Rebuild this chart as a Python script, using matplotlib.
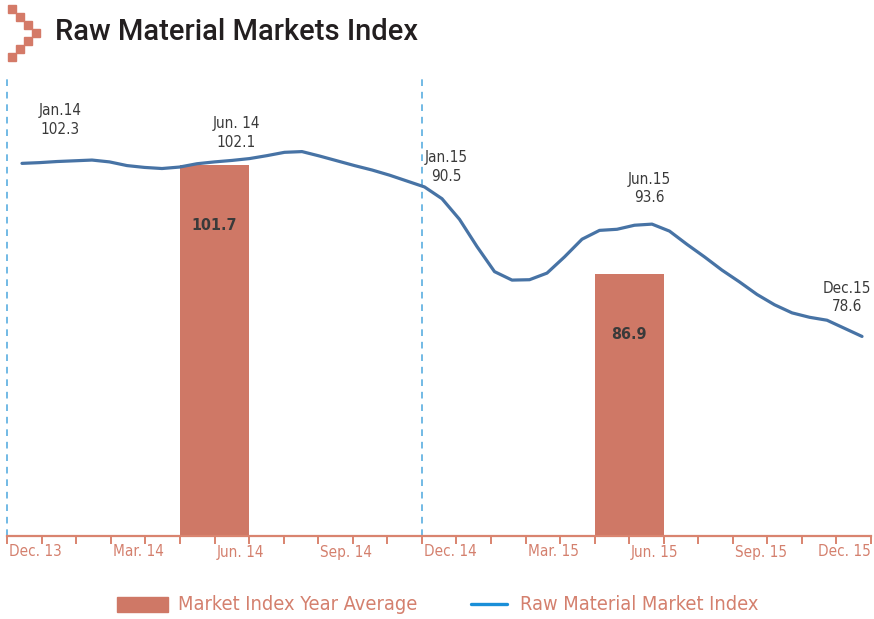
import numpy as np
import matplotlib
matplotlib.use('Agg')
import matplotlib.pyplot as plt
from matplotlib.patches import Rectangle
from matplotlib.lines import Line2D

# months run Dec 13 .. Dec 15, one band per month on the x axis
n_bands = 26
tick_labels = ['Dec. 13', 'Mar. 14', 'Jun. 14', 'Sep. 14', 'Dec. 14',
               'Mar. 15', 'Jun. 15', 'Sep. 15', 'Dec. 15']
tick_label_pos = [0, 3, 6, 9, 12, 15, 18, 21, 25]

index_vals = [101.9, 102.0, 102.15, 102.25, 102.35, 102.1, 101.6, 101.35,
              101.2, 101.4, 101.85, 102.1, 102.3, 102.55, 102.95, 103.4,
              103.5, 102.9, 102.25, 101.6, 101.0, 100.3, 99.5, 98.7,
              97.1, 94.3, 90.6, 87.2, 86.05, 86.1, 87.0, 89.2,
              91.6, 92.8, 92.95, 93.5, 93.65, 92.7, 90.9, 89.2,
              87.4, 85.8, 84.1, 82.7, 81.6, 81.0, 80.6, 79.5, 78.4]

# year averages, bars cover May/Jun
avg_vals = [101.7, 86.9]
avg_pos = [6, 18]

# callouts on the line
call_names = ['Jan.14', 'Jun. 14', 'Jan.15', 'Jun.15', 'Dec.15']
call_vals = [102.3, 102.1, 90.5, 93.6, 78.6]
call_month = [1, 6, 13, 18, 24]
call_offset = [(2, 29), (3, 21), (-22, 58), (-2, 26), (-11, 27)]  # points

bar_col = '#cf7866'
axis_col = '#d9846f'
label_col = '#d4806e'
line_col = '#4773a5'
dash_col = '#5aaee0'
text_col = '#3a3a3a'

narrow = dict(family='DejaVu Sans', stretch='condensed')

W, H = 874, 619
fig = plt.figure(figsize=(W / 100, H / 100), dpi=100)
ax = fig.add_axes([7.3 / W, 1 - 536 / H, (871 - 7.3) / W, (536 - 75) / H])
ax.set_xlim(0, 25)
ax.set_ylim(51.3, 113.9)

# bars
ax.bar(avg_pos, avg_vals, width=2, color=bar_col, zorder=2)
for p, v in zip(avg_pos, avg_vals):
    ax.annotate(f'{v:.1f}', (p, v), xytext=(0, -44), textcoords='offset points',
                ha='center', va='center', fontsize=11.5, weight='bold',
                color=text_col, **narrow)

# line
xline = np.linspace(0.425, 24.74, len(index_vals))
ax.plot(xline, index_vals, color=line_col, lw=2.3, zorder=3,
        solid_capstyle='round', solid_joinstyle='round')

month_step = (xline[-1] - xline[0]) / 24
for name, v, m, off in zip(call_names, call_vals, call_month, call_offset):
    ax.annotate(f'{name}\n{v}', (xline[0] + m * month_step, v), xytext=off,
                textcoords='offset points', ha='center', va='center',
                fontsize=11, color=text_col, linespacing=1.3,
                annotation_clip=False, **narrow)

# dashed year separators
for xd in [0, 12]:
    ax.plot([xd, xd], [51.3, 113.9], color=dash_col, lw=1.2,
            ls=(0, (4, 3.5)), clip_on=False, zorder=1)

# axis
for s in ['top', 'left', 'right']:
    ax.spines[s].set_visible(False)
ax.spines['bottom'].set_color(axis_col)
ax.spines['bottom'].set_linewidth(1.6)
ax.set_yticks([])
ax.set_xticks(range(n_bands))
ax.set_xticklabels([])
ax.tick_params(axis='x', length=6, width=1.4, color=axis_col)
for lab, p in zip(tick_labels, tick_label_pos):
    ha = 'right' if p == 25 else 'left'
    dx = 0 if p == 25 else 2
    ax.annotate(lab, (p, 0), xycoords=('data', 'axes fraction'),
                xytext=(dx, -16), textcoords='offset pixels', ha=ha, va='center',
                fontsize=11, color=label_col, annotation_clip=False, **narrow)

# title with chevron
for cx, cy in [(8, 5), (16, 13), (24, 21), (32, 29), (24, 37), (16, 45), (8, 53)]:
    fig.patches.append(Rectangle((cx / W, 1 - (cy + 8) / H), 8 / W, 8 / H,
                                 transform=fig.transFigure, color='#d47a68'))
fig.text(55 / W, 1 - 39.5 / H, 'Raw Material Markets Index', ha='left',
         va='baseline', fontsize=21, family='Roboto', weight='medium',
         color='#231f20')

# legend, drawn by hand
fig.patches.append(Rectangle((117 / W, 1 - 612 / H), 51 / W, 15 / H,
                             transform=fig.transFigure, color=bar_col))
fig.text(178 / W, 1 - 604 / H, 'Market Index Year Average', ha='left',
         va='center', fontsize=14.3, color=label_col, **narrow)
fig.lines.append(Line2D([471 / W, 507 / W], [1 - 604 / H, 1 - 604 / H],
                        transform=fig.transFigure, color='#1a8fd8', lw=2.4,
                        solid_capstyle='round'))
fig.text(520 / W, 1 - 604 / H, 'Raw Material Market Index', ha='left',
         va='center', fontsize=14.3, color=label_col, **narrow)

fig.savefig('out.png', dpi=100)
